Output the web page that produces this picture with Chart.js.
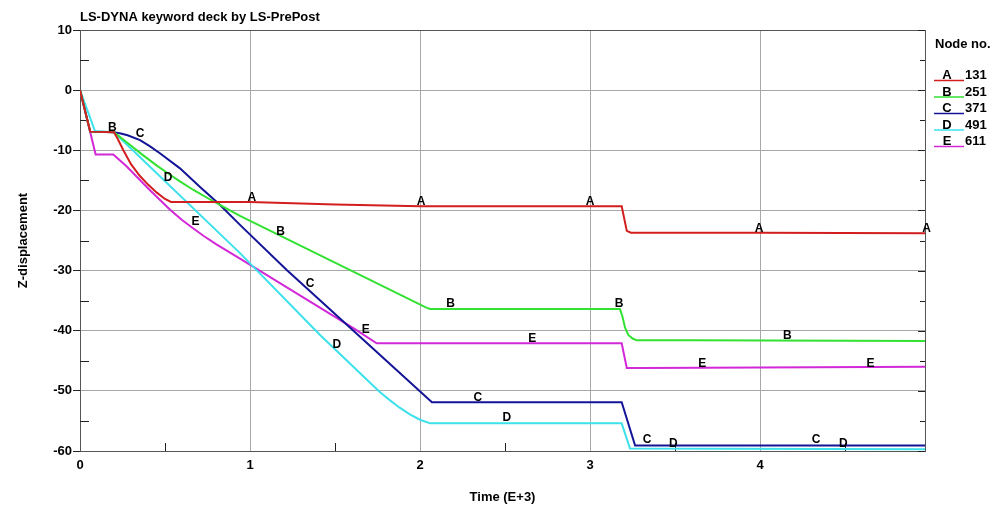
<!DOCTYPE html>
<html>
<head>
<meta charset="utf-8">
<script src="https://cdn.jsdelivr.net/npm/chart.js@4.4.1/dist/chart.umd.min.js"></script>
<style>
html, body { margin: 0; padding: 0; background: #fff; }
#wrap { width: 1000px; height: 511px; }
</style>
</head>
<body>
<div id="wrap"><canvas id="zChart"></canvas></div>
<script>
// Z-displacement histories of five nodes (time in E+3)

var nodeNames = ['131', '251', '371', '491', '611'];
var nodeLetters = ['A', 'B', 'C', 'D', 'E'];
var lineColors = ['rgb(210, 30, 30)', 'rgb(50, 225, 50)', 'rgb(20, 20, 150)', 'rgb(60, 225, 235)', 'rgb(210, 40, 215)'];

var timeA = [0, 0.06, 0.2, 0.22, 0.255, 0.3, 0.35, 0.4, 0.45, 0.5, 0.535, 1.0, 1.5, 2.0, 3.0, 3.186, 3.216, 3.24, 4.0, 4.97];
var zA    = [0, -6.9, -7.0, -8.0, -10.0, -12.3, -14.2, -15.7, -17.0, -18.1, -18.6, -18.6, -19.0, -19.3, -19.3, -19.3, -23.4, -23.7, -23.7, -23.8];

var timeB = [0, 0.06, 0.2, 0.28, 0.37, 0.45, 0.51, 0.59, 0.667, 0.76, 0.863, 0.941, 2.04, 2.06, 3.176, 3.19, 3.206, 3.225, 3.25, 3.275, 3.6, 4.97];
var zB    = [0, -6.9, -7.0, -8.8, -10.8, -12.5, -13.7, -15.2, -16.6, -18.1, -19.7, -20.9, -36.2, -36.4, -36.4, -37.6, -39.5, -40.7, -41.3, -41.6, -41.6, -41.7];

var timeC = [0, 0.06, 0.2, 0.24, 0.28, 0.353, 0.41, 0.47, 0.588, 0.706, 0.824, 0.941, 1.216, 2.07, 3.186, 3.265, 4.97];
var zC    = [0, -6.9, -7.0, -7.2, -7.5, -8.3, -9.3, -10.5, -13.0, -16.1, -19.1, -22.4, -29.9, -51.9, -51.9, -59.1, -59.1];

var timeD = [0, 0.088, 0.2, 0.941, 1.412, 1.7, 1.76, 1.82, 1.88, 1.94, 2.0, 2.06, 3.186, 3.235, 4.97];
var zD    = [0, -6.8, -7.0, -27.1, -40.7, -48.5, -50.1, -51.5, -52.8, -53.9, -54.8, -55.4, -55.4, -59.6, -59.7];

var timeE = [0, 0.092, 0.196, 0.275, 0.41, 0.53, 0.6, 0.667, 0.73, 0.8, 0.941, 1.61, 1.745, 3.186, 3.216, 3.3, 4.0, 4.97];
var zE    = [0, -10.7, -10.7, -12.7, -16.6, -19.9, -21.6, -23.0, -24.3, -25.6, -28.0, -39.6, -42.1, -42.1, -46.2, -46.2, -46.1, -46.0];

// where the curve letters sit
var labelTimeA = [1.01, 2.006, 3.0, 3.994, 4.98];
var labelZA    = [-17.9, -18.6, -18.6, -23.1, -23.1];
var labelTimeB = [0.19, 1.18, 2.18, 3.17, 4.16];
var labelZB    = [-6.3, -23.6, -35.5, -35.5, -40.9];
var labelTimeC = [0.353, 1.353, 2.34, 3.335, 4.33];
var labelZC    = [-7.3, -32.1, -51.2, -58.1, -58.1];
var labelTimeD = [0.518, 1.51, 2.51, 3.49, 4.49];
var labelZD    = [-14.6, -42.4, -54.5, -58.8, -58.8];
var labelTimeE = [0.68, 1.68, 2.66, 3.66, 4.65];
var labelZE    = [-21.9, -39.9, -41.4, -45.5, -45.5];

var xTicks = [0, 1, 2, 3, 4];
var yTicks = [10, 0, -10, -20, -30, -40, -50, -60];
var xMinor = [0.5, 1.5, 2.5, 3.5, 4.5];
var yMinor = [5, -5, -15, -25, -35, -45, -55];

var times = [timeA, timeB, timeC, timeD, timeE];
var values = [zA, zB, zC, zD, zE];
var labelTimes = [labelTimeA, labelTimeB, labelTimeC, labelTimeD, labelTimeE];
var labelValues = [labelZA, labelZB, labelZC, labelZD, labelZE];

var family = 'Arial, "Liberation Sans", sans-serif';
var axisDark = '#222';

var datasets = nodeNames.map(function (name, i) {
	return {
		label: name,
		data: times[i].map(function (t, j) { return { x: t, y: values[i][j] }; }),
		borderColor: lineColors[i],
		backgroundColor: lineColors[i],
		borderWidth: 2,
		pointRadius: 0,
		fill: false,
		tension: 0
	};
});

var deckPlugin = {
	id: 'deck',
	beforeDatasetsDraw: function (chart) {
		var c = chart.ctx, a = chart.chartArea;
		var xs = chart.scales.x, ys = chart.scales.y;
		c.save();
		c.strokeStyle = '#555';
		c.lineWidth = 1;
		c.strokeRect(a.left + 0.5, a.top + 0.5, a.right - a.left, a.bottom - a.top);
		c.strokeStyle = axisDark;
		c.beginPath();
		// minor ticks along bottom and left
		xMinor.forEach(function (t) {
			var px = Math.round(xs.getPixelForValue(t)) + 0.5;
			c.moveTo(px, a.bottom);
			c.lineTo(px, a.bottom - 8);
		});
		yMinor.forEach(function (v) {
			var py = Math.round(ys.getPixelForValue(v)) + 0.5;
			c.moveTo(a.left, py);
			c.lineTo(a.left + 9, py);
			c.moveTo(a.right, py);
			c.lineTo(a.right - 5, py);
		});
		// major ticks on right edge
		yTicks.forEach(function (v) {
			var py = Math.round(ys.getPixelForValue(v)) + 0.5;
			c.moveTo(a.right, py);
			c.lineTo(a.right - 7, py);
		});
		c.stroke();
		c.restore();
	},
	afterDatasetsDraw: function (chart) {
		var c = chart.ctx;
		var xs = chart.scales.x, ys = chart.scales.y;
		c.save();
		c.fillStyle = '#000';
		c.font = 'bold 12px ' + family;
		c.textAlign = 'center';
		c.textBaseline = 'middle';
		nodeLetters.forEach(function (letter, i) {
			labelTimes[i].forEach(function (t, j) {
				c.fillText(letter, xs.getPixelForValue(t), ys.getPixelForValue(labelValues[i][j]));
			});
		});
		c.restore();
	},
	afterDraw: function (chart) {
		var c = chart.ctx, a = chart.chartArea;
		c.save();
		c.fillStyle = '#000';
		c.textBaseline = 'alphabetic';
		c.textAlign = 'left';
		c.font = 'bold 13px ' + family;
		c.fillText('LS-DYNA keyword deck by LS-PrePost', a.left, 21);
		// legend
		var lx = a.right + 10;
		c.fillText('Node no.', lx, 48);
		nodeNames.forEach(function (name, i) {
			var base = 79 + i * 16.5;
			c.fillStyle = '#000';
			c.textAlign = 'center';
			c.fillText(nodeLetters[i], lx + 12, base);
			c.textAlign = 'left';
			c.fillText(name, lx + 30, base);
			c.strokeStyle = lineColors[i];
			c.lineWidth = 1.5;
			c.beginPath();
			c.moveTo(lx - 1, base + 1.5);
			c.lineTo(lx + 29, base + 1.5);
			c.stroke();
		});
		c.restore();
	}
};

new Chart(document.getElementById('zChart'), {
	type: 'line',
	data: { datasets: datasets },
	options: {
		responsive: true,
		maintainAspectRatio: false,
		animation: false,
		layout: { padding: { top: 30, right: 75, left: 0, bottom: 0 } },
		plugins: {
			legend: { display: false },
			tooltip: { enabled: false }
		},
		scales: {
			x: {
				type: 'linear',
				min: 0,
				max: 4.97,
				afterBuildTicks: function (s) { s.ticks = xTicks.map(function (v) { return { value: v }; }); },
				afterFit: function (s) { s.height = 60; },
				grid: { color: '#a8a8a8', tickLength: 0 },
				border: { color: axisDark },
				ticks: { color: '#000', font: { family: family, size: 13, weight: 'bold' }, padding: 7, maxRotation: 0, autoSkip: false },
				title: { display: true, text: 'Time (E+3)', color: '#000', font: { family: family, size: 13, weight: 'bold' }, padding: { top: 0, bottom: 6 } }
			},
			y: {
				type: 'linear',
				min: -60,
				max: 10,
				afterBuildTicks: function (s) { s.ticks = yTicks.map(function (v) { return { value: v }; }); },
				afterFit: function (s) { s.width = 80; },
				grid: { color: '#a8a8a8', tickLength: 7, tickColor: axisDark },
				border: { color: axisDark },
				ticks: { color: '#000', font: { family: family, size: 13, weight: 'bold' }, padding: 1 },
				title: { display: true, text: 'Z-displacement', color: '#000', font: { family: family, size: 13, weight: 'bold' }, padding: { top: 16, bottom: 0 } }
			}
		}
	},
	plugins: [deckPlugin]
});
</script>
</body>
</html>
